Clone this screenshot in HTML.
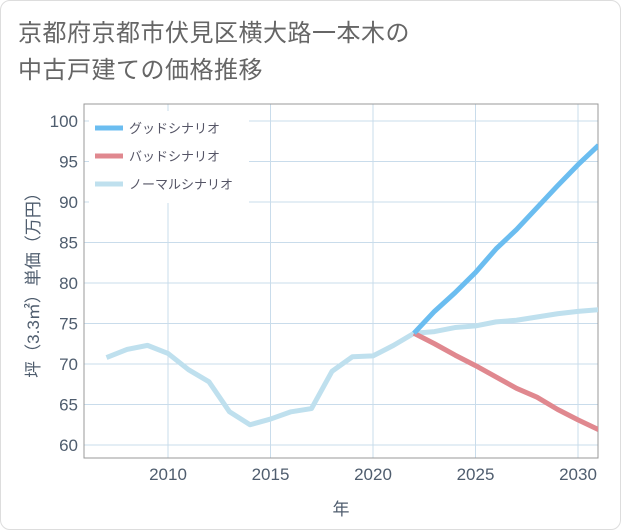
<!DOCTYPE html>
<html><head><meta charset="utf-8">
<style>
body{margin:0;background:#fff;font-family:"Liberation Sans","Noto Sans CJK JP",sans-serif;}
#card{position:absolute;left:0;top:0;width:619px;height:528px;border:1px solid #ddd;border-radius:10px;background:#fff;}
#title{position:absolute;left:17px;top:14px;font-size:24px;line-height:37px;color:#666;letter-spacing:0.5px;}
</style></head>
<body>
<div id="card">
<div id="title">京都府京都市伏見区横大路一本木の<br>中古戸建ての価格推移</div>
<svg id="chart" width="621" height="530" style="position:absolute;left:0;top:0"></svg>
</div>
<script>
const years=[2007,2008,2009,2010,2011,2012,2013,2014,2015,2016,2017,2018,2019,2020,2021,2022,2023,2024,2025,2026,2027,2028,2029,2030,2031];
const normalVals=[70.8,71.8,72.3,71.3,69.3,67.8,64.1,62.5,63.2,64.1,64.5,69.1,70.9,71.0,72.3,73.8,74.0,74.5,74.7,75.2,75.4,75.8,76.2,76.5,76.7];
const forecastYears=[2022,2023,2024,2025,2026,2027,2028,2029,2030,2031];
const goodVals=[73.8,76.5,78.8,81.3,84.2,86.6,89.3,92.0,94.6,97.0];
const badVals=[73.8,72.5,71.1,69.8,68.4,67.0,65.9,64.4,63.1,61.9];
const yTicks=[60,65,70,75,80,85,90,95,100];
const xTicks=[2010,2015,2020,2025,2030];
const legendLabels=["グッドシナリオ","バッドシナリオ","ノーマルシナリオ"];
const legendColors=["#6bbdf0","#e0888f","#bfe0ee"];

const L=83,R=597,T=103,B=457;
const x=v=>167+(v-2010)*20.5;
const y=v=>444-(v-60)*8.1;
const svg=document.getElementById('chart');
const NS='http://www.w3.org/2000/svg';
function mk(tag,attrs){const e=document.createElementNS(NS,tag);for(const k in attrs)e.setAttribute(k,attrs[k]);svg.appendChild(e);return e;}

for(const t of yTicks){
  const g=mk('line',{x1:L,x2:R,y1:y(t),y2:y(t),stroke:'#c9dceb','stroke-width':1});
  
  
  const tx=mk('text',{x:L-6,y:y(t)+6,'text-anchor':'end','font-size':17,fill:'#4f5d6e'});
  tx.textContent=t;
  
  
}
for(const t of xTicks){
  const g=mk('line',{x1:x(t),x2:x(t),y1:T,y2:B,stroke:'#c9dceb','stroke-width':1});
  
  
  const tx=mk('text',{x:x(t),y:B+22,'text-anchor':'middle','font-size':17,fill:'#4f5d6e'});
  tx.textContent=t;
  
  
}
const fr=mk('rect',{x:L,y:T,width:R-L,height:B-T,fill:'none',stroke:'#999','stroke-width':1});



const clip=mk('clipPath',{id:'cp'});
const cr=document.createElementNS(NS,'rect');cr.setAttribute('x',L);cr.setAttribute('y',T);cr.setAttribute('width',R-L);cr.setAttribute('height',B-T);clip.appendChild(cr);

function line(xs,vs,color,name){
  const p=mk('polyline',{points:xs.map((d,i)=>x(d)+','+y(vs[i])).join(' '),fill:'none',stroke:color,'stroke-width':5,'stroke-linejoin':'round','clip-path':'url(#cp)'});
  
  
}
line(years,normalVals,legendColors[2],'normal-scenario-line');
line(forecastYears,badVals,legendColors[1],'bad-scenario-line');
line(forecastYears,goodVals,legendColors[0],'good-scenario-line');

const lb=mk('rect',{x:88,y:110,width:160,height:92,fill:'#fff'});


legendLabels.forEach((s,i)=>{
  const yy=127+i*28;
  const l=mk('line',{x1:94,x2:122,y1:yy,y2:yy,stroke:legendColors[i],'stroke-width':5});
  
  
  const t=mk('text',{x:128,y:yy+5,'font-size':13,fill:'#556'});
  t.textContent=s;
  
  
});

const xt=mk('text',{x:340,y:514,'text-anchor':'middle','font-size':17,fill:'#4f5d6e'});
xt.textContent='年';


const yt=mk('text',{x:0,y:0,'text-anchor':'middle','font-size':17,fill:'#4f5d6e',transform:'translate(38,280) rotate(-90)'});
yt.textContent='坪（3.3㎡）単価（万円）';


</script>
</body></html>
